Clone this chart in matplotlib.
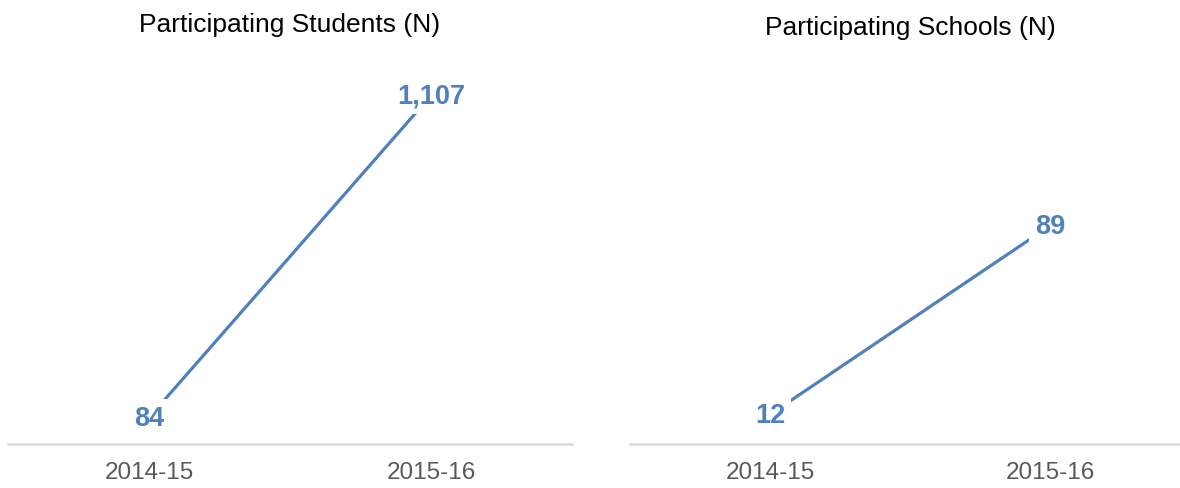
import matplotlib.pyplot as plt

plt.rcParams['font.family'] = ['Liberation Sans', 'DejaVu Sans']

years = ['2014-15', '2015-16']
students = [84, 1107]
schools = [12, 89]

blue = '#4F81BD'
W, H = 1180, 489

fig = plt.figure(figsize=(W / 100, H / 100), dpi=100)


def panel(x0, x1, values, ymax, title, tx, ty):
    ax = fig.add_axes([x0 / W, 44 / H, (x1 - x0) / W, 385 / H])
    xs = range(len(values))
    ax.plot(xs, values, color=blue, lw=2.3, solid_capstyle='butt')
    for x, v in zip(xs, values):
        ax.text(x, v, f'{v:,}', ha='center', va='center', fontsize=19.5,
                fontweight='bold', color=blue,
                bbox=dict(facecolor='white', edgecolor='none', pad=4))
    ax.set_xlim(-0.5, len(values) - 0.5)
    ax.set_ylim(0, ymax)
    ax.set_xticks(list(xs))
    ax.set_xticklabels(years, fontsize=17.5, color='#595959')
    ax.tick_params(axis='x', length=0, pad=12)
    ax.set_yticks([])
    for s in ['top', 'left', 'right']:
        ax.spines[s].set_visible(False)
    ax.spines['bottom'].set_color('#D9D9D9')
    ax.spines['bottom'].set_linewidth(1.8)
    fig.text(tx / W, 1 - ty / H, title, ha='center', va='center',
             fontsize=19, color='black')


panel(8, 572, students, 1223, 'Participating Students (N)', 290, 25)
panel(630, 1190, schools, 157, 'Participating Schools (N)', 910, 28)

fig.savefig('out.png', dpi=100)
